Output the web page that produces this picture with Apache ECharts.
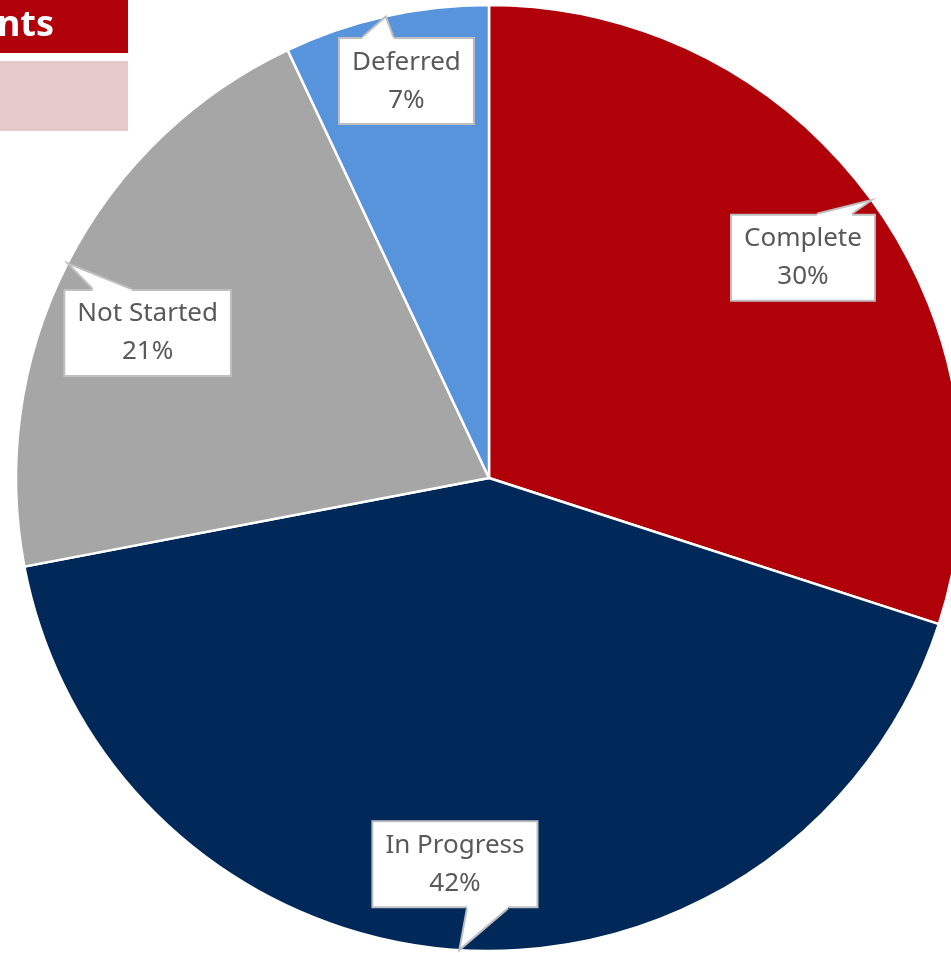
<!DOCTYPE html>
<html><head><meta charset="utf-8">
<script src="https://cdn.jsdelivr.net/npm/echarts@6/dist/echarts.min.js"></script>
<style>html,body{margin:0;padding:0;background:#fff;overflow:hidden}#c{width:951px;height:953px}</style>
</head><body><div id="c"></div>
<script>
const categories = ['Complete', 'In Progress', 'Not Started', 'Deferred'];
const values = [30, 42, 21, 7];
const colors = ['#b0000a', '#00295a', '#a5a6a5', '#5894dc'];
const headerText = 'nts';

// layout (not data)
const CX = 489, CY = 478, R = 473;
const labelRadiusRatio = 0.81;
const labelOffsets = [[4, 5], [-10, 4], [0, 29], [1, -23]];
const pointerBase = [[14, 49], [12, 53], [-55, -16], [-44, -13]];

const total = values.reduce((a, b) => a + b, 0);
const mids = []; let acc = 0;
values.forEach(v => { mids.push((acc + v / 2) / total * 2 * Math.PI); acc += v; });
function tipOf(i) { return [CX + R * Math.sin(mids[i]), CY - R * Math.cos(mids[i])]; }
function labelCenter(i) {
  const t = tipOf(i);
  return [CX + (t[0] - CX) * labelRadiusRatio + labelOffsets[i][0], CY + (t[1] - CY) * labelRadiusRatio + labelOffsets[i][1]];
}
const boxes = [];

const chart = echarts.init(document.getElementById('c'));
const baseGraphic = [
  { id: 'h1', type: 'rect', shape: { x: -10, y: 0, width: 138, height: 53 }, style: { fill: '#b0000a' } },
  { id: 'h2', type: 'rect', shape: { x: -10, y: 61, width: 138, height: 70 }, style: { fill: '#e6c9cb' } },
  { id: 'h3', type: 'text', style: { text: headerText, x: 54, y: 26, align: 'right', verticalAlign: 'middle', fill: '#ffffff', font: 'bold 36px "Noto Sans"' } }
];
chart.setOption({
  animation: false,
  graphic: baseGraphic,
  series: [{
    type: 'pie',
    center: [CX, CY],
    radius: R,
    startAngle: 90,
    clockwise: true,
    avoidLabelOverlap: false,
    z: 2,
    data: categories.map((n, i) => ({ name: n, value: values[i], itemStyle: { color: colors[i] } })),
    itemStyle: { borderColor: '#ffffff', borderWidth: 2.5 },
    label: {
      show: true, position: 'outside', formatter: '{b}\n{d}%',
      color: '#595959', fontFamily: 'Noto Sans', fontSize: 26, lineHeight: 38,
      backgroundColor: '#ffffff', borderColor: '#bfbfbf', borderWidth: 2,
      padding: [4, 12], align: 'center'
    },
    labelLine: { show: false },
    labelLayout: function (p) {
      const i = p.dataIndex;
      const c = labelCenter(i);
      boxes[i] = { x: c[0], y: c[1], w: p.labelRect.width, h: p.labelRect.height };
      return { x: c[0], y: c[1], align: 'center', verticalAlign: 'middle' };
    }
  }]
});

// callout pointers derived from the label boxes and slice mid-angles
const ptr = [];
categories.forEach((n, i) => {
  const b = boxes[i]; if (!b) return;
  const t = tipOf(i);
  const above = t[1] < b.y;
  const ey = above ? b.y - b.h / 2 : b.y + b.h / 2;
  const inner = above ? ey + 3 : ey - 3;
  const x1 = b.x + pointerBase[i][0], x2 = b.x + pointerBase[i][1];
  ptr.push({ type: 'polygon', z: 50, shape: { points: [[x1, inner], [x1, ey], t, [x2, ey], [x2, inner]] }, style: { fill: '#ffffff', stroke: null } });
  ptr.push({ type: 'polyline', z: 51, shape: { points: [[x1, ey], t, [x2, ey]] }, style: { stroke: '#bfbfbf', lineWidth: 2, fill: null } });
});
chart.setOption({ graphic: baseGraphic.concat(ptr) }, { replaceMerge: ['graphic'] });
</script>
</body></html>
